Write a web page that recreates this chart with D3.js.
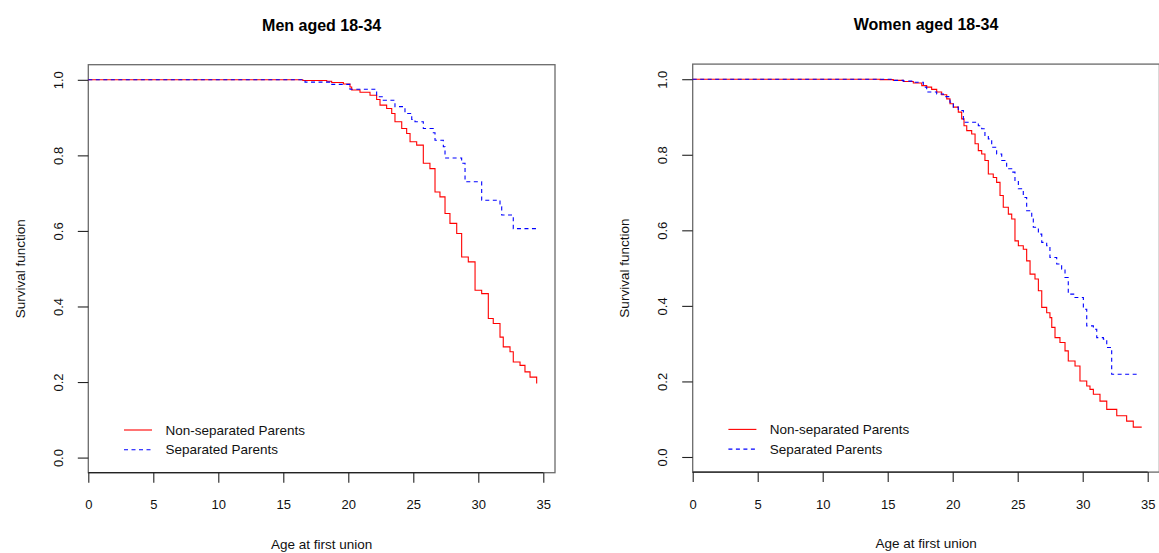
<!DOCTYPE html>
<html><head><meta charset="utf-8">
<script src="https://cdn.jsdelivr.net/npm/d3@7"></script>
<style>body{margin:0;background:#fff;} svg{display:block;font-family:"Liberation Sans",Arial,Helvetica,sans-serif;}</style>
</head><body><svg id="c" width="1159" height="553"></svg>
<script>
const panelTitles = ["Men aged 18-34", "Women aged 18-34"];
const seriesNames = ["Non-separated Parents", "Separated Parents"];
const seriesColors = ["#ff0000", "#0000ff"];
const xTickValues = [0, 5, 10, 15, 20, 25, 30, 35];
const yTickValues = [0, 0.2, 0.4, 0.6, 0.8, 1.0];
const xLabel = "Age at first union";
const yLabel = "Survival function";

const menNonSepAge = [0, 16.5, 18.34, 18.72, 19.62, 20.13, 20.26, 20.9, 21.67, 22.18, 22.44, 22.95, 23.34, 23.59, 24.11, 24.49, 24.75, 25.26, 25.77, 26.28, 26.67, 27.05, 27.44, 27.82, 28.34, 28.72, 29.23, 29.75, 30.26, 30.77, 31.15, 31.67, 31.92, 32.44, 32.69, 33.21, 33.59, 33.98, 34.49];
const menNonSepSurv = [1, 0.998, 0.996, 0.993, 0.989, 0.981, 0.973, 0.967, 0.959, 0.948, 0.933, 0.924, 0.911, 0.889, 0.871, 0.858, 0.836, 0.827, 0.779, 0.765, 0.703, 0.690, 0.646, 0.620, 0.593, 0.531, 0.518, 0.443, 0.434, 0.368, 0.355, 0.319, 0.293, 0.280, 0.253, 0.244, 0.227, 0.213, 0.196];

const menSepAge = [0, 16.67, 18.59, 20.13, 22.18, 22.69, 23.59, 24.36, 24.88, 25.13, 25.77, 26.54, 26.67, 27.31, 27.44, 28.72, 28.98, 30.26, 31.67, 31.80, 32.69, 34.49];
const menSepSurv = [1, 0.994, 0.988, 0.975, 0.955, 0.946, 0.929, 0.911, 0.895, 0.889, 0.871, 0.860, 0.840, 0.823, 0.793, 0.779, 0.730, 0.681, 0.664, 0.642, 0.606, 0.606];

const womenNonSepAge = [0, 14.41, 15.43, 16.2, 16.97, 17.62, 18.0, 18.38, 18.77, 19.15, 19.54, 19.79, 20.05, 20.43, 20.69, 20.87, 21.08, 21.46, 21.72, 21.97, 22.23, 22.48, 22.74, 23.12, 23.38, 23.64, 23.89, 24.28, 24.54, 24.79, 25.05, 25.43, 25.69, 25.95, 26.33, 26.59, 26.85, 27.23, 27.48, 27.62, 27.87, 28.25, 28.64, 28.89, 29.41, 29.79, 30.31, 30.56, 30.82, 31.33, 31.85, 32.62, 33.38, 33.89, 34.54];
const womenNonSepSurv = [1, 0.999, 0.997, 0.994, 0.990, 0.983, 0.979, 0.973, 0.966, 0.959, 0.948, 0.935, 0.926, 0.913, 0.895, 0.877, 0.864, 0.855, 0.829, 0.811, 0.802, 0.785, 0.749, 0.740, 0.727, 0.692, 0.661, 0.643, 0.630, 0.572, 0.559, 0.550, 0.519, 0.484, 0.471, 0.440, 0.396, 0.382, 0.369, 0.343, 0.316, 0.303, 0.281, 0.254, 0.241, 0.201, 0.188, 0.179, 0.166, 0.148, 0.126, 0.109, 0.095, 0.079, 0.079];

const womenSepAge = [0, 15.43, 16.2, 16.97, 17.74, 18.0, 18.77, 19.28, 19.79, 20.05, 20.43, 20.82, 21.97, 22.23, 22.48, 22.74, 23.0, 23.38, 23.77, 24.15, 24.54, 24.79, 25.05, 25.43, 25.69, 26.08, 26.2, 26.59, 26.85, 27.23, 27.48, 28.0, 28.38, 28.64, 28.89, 29.41, 30.05, 30.31, 30.82, 31.08, 31.59, 31.85, 32.23, 34.41];
const womenSepSurv = [1, 0.997, 0.995, 0.992, 0.979, 0.966, 0.961, 0.954, 0.939, 0.926, 0.917, 0.886, 0.877, 0.869, 0.851, 0.842, 0.820, 0.802, 0.785, 0.763, 0.754, 0.732, 0.710, 0.687, 0.652, 0.634, 0.608, 0.590, 0.568, 0.559, 0.528, 0.511, 0.497, 0.475, 0.431, 0.422, 0.391, 0.347, 0.338, 0.316, 0.312, 0.290, 0.219, 0.219];

const panelSeries = [
  [[menNonSepAge, menNonSepSurv], [menSepAge, menSepSurv]],
  [[womenNonSepAge, womenNonSepSurv], [womenSepAge, womenSepSurv]]
];

const svg = d3.select("#c");
const panelWidth = 604.4;
const plot = {left: 88.3, right: 555, top: 64.7, bottom: 472.7};

panelTitles.forEach((title, pi) => {
  const g = svg.append("g").attr("transform", `translate(${pi * panelWidth},${pi === 1 ? -0.6 : 0})`);
  const x = d3.scaleLinear().domain([0, 35.9]).range([plot.left, plot.right]);
  const y = d3.scaleLinear().domain([-0.04, 1.04]).range([plot.bottom, plot.top]);

  // box
  g.append("rect").attr("x", plot.left).attr("y", plot.top)
    .attr("width", plot.right - plot.left).attr("height", plot.bottom - plot.top)
    .attr("fill", "none").attr("stroke", "#6a6a6a").attr("stroke-width", 1.3);

  // x axis
  const xa = g.append("g").attr("transform", `translate(0,${plot.bottom})`)
    .call(d3.axisBottom(x).tickValues(xTickValues).tickSize(10).tickSizeOuter(0).tickPadding(0).tickFormat(d3.format("d")));
  xa.select(".domain").remove();
  xa.append("line").attr("x1", x(xTickValues[0])).attr("x2", x(xTickValues[xTickValues.length - 1]))
    .attr("stroke", "#222").attr("stroke-width", 1.2);
  xa.selectAll(".tick line").attr("stroke", "#222").attr("stroke-width", 1.1);
  xa.selectAll(".tick text").attr("y", 32).attr("dy", "0.35em").attr("font-size", 13).attr("fill", "#111");

  // y axis
  const ya = g.append("g").attr("transform", `translate(${plot.left},0)`)
    .call(d3.axisLeft(y).tickValues(yTickValues).tickSize(10.5).tickSizeOuter(0).tickFormat(d3.format(".1f")));
  ya.select(".domain").remove();
  ya.selectAll(".tick line").attr("stroke", "#222").attr("stroke-width", 1.1);
  ya.selectAll(".tick text").attr("transform", "rotate(-90)").attr("x", 0).attr("y", -30)
    .attr("dy", "0.35em").attr("text-anchor", "middle").attr("font-size", 13).attr("fill", "#111");

  // series
  const line = d3.line().curve(d3.curveStepAfter).x(d => x(d[0])).y(d => y(d[1]));
  panelSeries[pi].forEach((s, si) => {
    const pts = s[0].map((a, i) => [a, s[1][i]]);
    g.append("path").datum(pts).attr("d", line).attr("fill", "none")
      .attr("stroke", seriesColors[si]).attr("stroke-width", 1.1)
      .attr("stroke-dasharray", si === 1 ? "4,3.5" : null);
  });

  // legend
  seriesNames.forEach((name, si) => {
    const ly = 430 + si * 19.7;
    g.append("line").attr("x1", 124).attr("x2", 152).attr("y1", ly).attr("y2", ly)
      .attr("stroke", seriesColors[si]).attr("stroke-width", 1.1)
      .attr("stroke-dasharray", si === 1 ? "4,3.5" : null);
    g.append("text").attr("x", 165.4).attr("y", ly).attr("dy", "0.35em")
      .attr("font-size", 13.5).attr("fill", "#111").text(name);
  });

  // titles
  const cx = (plot.left + plot.right) / 2;
  g.append("text").attr("x", cx).attr("y", 25).attr("dy", "0.35em").attr("text-anchor", "middle")
    .attr("font-size", 16).attr("font-weight", "bold").attr("fill", "#000").text(title);
  g.append("text").attr("x", cx).attr("y", 544).attr("dy", "0.35em").attr("text-anchor", "middle")
    .attr("font-size", 13.5).attr("fill", "#111").text(xLabel);
  g.append("text").attr("transform", `translate(20,${(plot.top + plot.bottom) / 2}) rotate(-90)`)
    .attr("dy", "0.35em").attr("text-anchor", "middle")
    .attr("font-size", 13.5).attr("fill", "#111").text(yLabel);
});
</script>
</body></html>
